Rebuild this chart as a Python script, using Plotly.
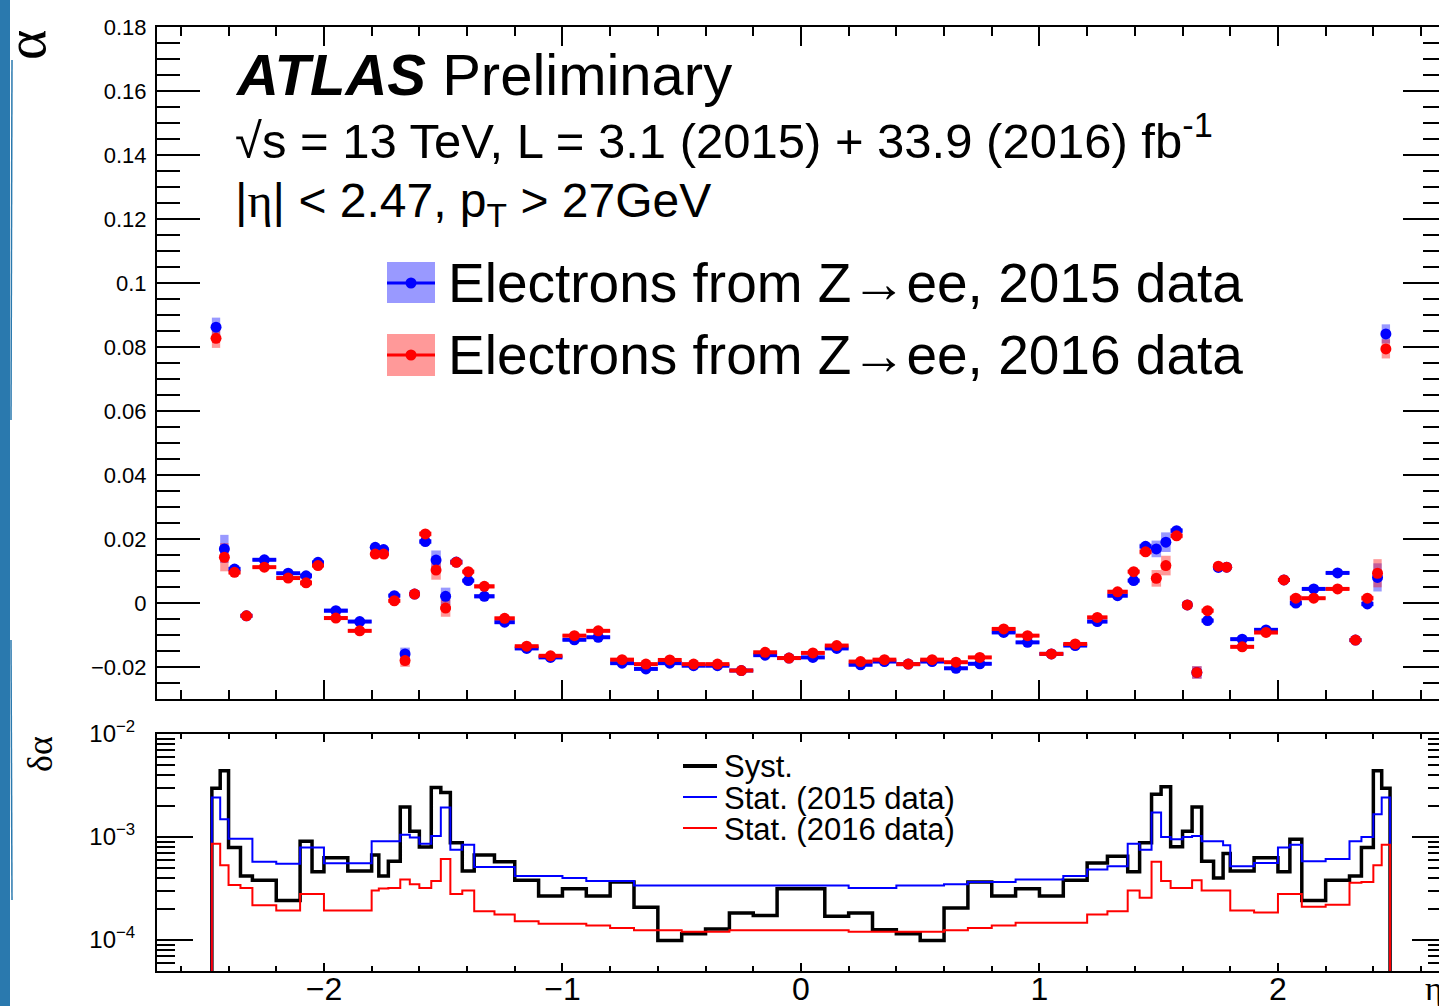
import math
import plotly.graph_objects as go

# ---------------- data ----------------
POS_EDGES = [0.0, 0.1, 0.2, 0.3, 0.4, 0.5, 0.6, 0.7, 0.8, 0.9, 1.0, 1.1, 1.2, 1.285, 1.37,
             1.42, 1.47, 1.51, 1.55, 1.6, 1.64, 1.68, 1.73, 1.77, 1.8, 1.9, 2.0, 2.05, 2.1,
             2.2, 2.3, 2.35, 2.4, 2.435, 2.47]
ETA_EDGES = [-e for e in reversed(POS_EDGES[1:])] + POS_EDGES

ALPHA_2015 = [0.0862, 0.0169, 0.0106, -0.0040, 0.0135, 0.0093, 0.0085, 0.0127, -0.0024, -0.0058,
              0.0174, 0.0167, 0.0023, -0.0159, 0.0028, 0.0192, 0.0134, 0.0021, 0.0128, 0.0070,
              0.0021, -0.0060, -0.0142, -0.0170, -0.0115, -0.0107, -0.0188, -0.0206, -0.0188, -0.0196,
              -0.0196, -0.0211, -0.0163, -0.0172, -0.0170, -0.0142, -0.0193, -0.0183, -0.0191, -0.0183,
              -0.0204, -0.0190, -0.0092, -0.0123, -0.0159, -0.0133, -0.0058, 0.0023, 0.0070, 0.0177,
              0.0169, 0.0190, 0.0226, -0.0006, -0.0217, -0.0055, 0.0111, 0.0112, -0.0113, -0.0084,
              0.0072, 0.0000, 0.0044, 0.0094, -0.0116, -0.0003, 0.0080, 0.0841]

ALPHA_2016 = [0.0827, 0.0143, 0.0096, -0.0040, 0.0112, 0.0078, 0.0063, 0.0117, -0.0047, -0.0087,
              0.0153, 0.0153, 0.0007, -0.0180, 0.0028, 0.0216, 0.0103, -0.0016, 0.0127, 0.0098,
              0.0052, -0.0048, -0.0135, -0.0165, -0.0102, -0.0087, -0.0177, -0.0191, -0.0178, -0.0191,
              -0.0191, -0.0211, -0.0154, -0.0172, -0.0156, -0.0133, -0.0183, -0.0177, -0.0191, -0.0177,
              -0.0185, -0.0170, -0.0081, -0.0102, -0.0159, -0.0128, -0.0045, 0.0035, 0.0098, 0.0160,
              0.0077, 0.0117, 0.0210, -0.0006, -0.0217, -0.0024, 0.0115, 0.0112, -0.0137, -0.0092,
              0.0072, 0.0015, 0.0015, 0.0044, -0.0116, 0.0015, 0.0093, 0.0794]

SYST = [2.98e-3, 4.4e-3, 7.9e-4, 4.17e-4, 3.8e-4, 2.42e-4, 9.1e-4, 4.6e-4, 6.3e-4, 4.67e-4,
        6.7e-4, 4.17e-4, 5.8e-4, 1.96e-3, 1.14e-3, 8.0e-4, 3.02e-3, 2.7e-3, 8.8e-4, 4.67e-4,
        6.7e-4, 5.75e-4, 3.8e-4, 2.67e-4, 3.14e-4, 2.67e-4, 3.65e-4, 2.08e-4, 9.9e-5, 1.15e-4,
        1.28e-4, 1.83e-4, 1.73e-4, 3.14e-4, 3.14e-4, 1.7e-4, 1.83e-4, 1.26e-4, 1.15e-4, 9.9e-5,
        2.05e-4, 3.65e-4, 2.67e-4, 3.14e-4, 2.67e-4, 3.8e-4, 5.6e-4, 6.5e-4, 4.6e-4, 8.8e-4,
        2.6e-3, 3.07e-3, 8.05e-4, 1.14e-3, 1.96e-3, 5.8e-4, 4.0e-4, 6.9e-4, 4.67e-4, 6.3e-4,
        4.6e-4, 9.5e-4, 2.42e-4, 3.8e-4, 4.17e-4, 7.9e-4, 4.4e-3, 2.98e-3]

STAT_2015 = [2.42e-3, 1.49e-3, 9.6e-4, 9.6e-4, 5.75e-4, 5.5e-4, 7.9e-4, 7.9e-4, 5.55e-4, 5.55e-4,
             9.1e-4, 9.1e-4, 9.1e-4, 1.05e-3, 9.9e-4, 8.6e-4, 1.02e-3, 1.93e-3, 7.5e-4, 8.4e-4,
             5.1e-4, 5.1e-4, 4.17e-4, 4.17e-4, 4.0e-4, 3.73e-4, 3.73e-4, 3.39e-4, 3.39e-4, 3.39e-4,
             3.39e-4, 3.39e-4, 3.39e-4, 3.39e-4, 3.39e-4, 3.39e-4, 3.2e-4, 3.2e-4, 3.39e-4, 3.39e-4,
             3.47e-4, 3.65e-4, 3.65e-4, 3.87e-4, 3.87e-4, 4.17e-4, 4.84e-4, 5.2e-4, 8.6e-4, 7.5e-4,
             1.73e-3, 1.0e-3, 9.5e-4, 1.0e-3, 1.02e-3, 9.1e-4, 9.1e-4, 8.3e-4, 5.2e-4, 5.6e-4,
             7.9e-4, 8.4e-4, 5.8e-4, 6.1e-4, 9.1e-4, 1.0e-3, 1.66e-3, 2.42e-3]

STAT_2016 = [8.6e-4, 5.33e-4, 3.41e-4, 3.2e-4, 2.18e-4, 1.93e-4, 2.8e-4, 2.8e-4, 1.93e-4, 1.93e-4,
             3.03e-4, 3.16e-4, 3.2e-4, 3.87e-4, 3.47e-4, 3.2e-4, 3.73e-4, 6.1e-4, 2.8e-4, 3.03e-4,
             1.9e-4, 1.77e-4, 1.52e-4, 1.44e-4, 1.44e-4, 1.38e-4, 1.31e-4, 1.24e-4, 1.24e-4, 1.2e-4,
             1.2e-4, 1.24e-4, 1.24e-4, 1.24e-4, 1.24e-4, 1.24e-4, 1.2e-4, 1.2e-4, 1.2e-4, 1.2e-4,
             1.24e-4, 1.31e-4, 1.38e-4, 1.47e-4, 1.47e-4, 1.47e-4, 1.77e-4, 1.9e-4, 3.03e-4, 2.57e-4,
             5.75e-4, 3.73e-4, 3.2e-4, 3.2e-4, 3.8e-4, 3.03e-4, 3.03e-4, 3.03e-4, 1.93e-4, 1.85e-4,
             2.8e-4, 2.8e-4, 2.1e-4, 2.2e-4, 3.59e-4, 3.65e-4, 5.33e-4, 8.4e-4]

Y_TICKS = [-0.02, 0.0, 0.02, 0.04, 0.06, 0.08, 0.10, 0.12, 0.14, 0.16, 0.18]
Y_TICK_TEXT = ["\u22120.02", "0", "0.02", "0.04", "0.06", "0.08", "0.1", "0.12", "0.14", "0.16", "0.18"]
X_TICKS = [-2, -1, 0, 1, 2]
X_TICK_TEXT = ["\u22122", "\u22121", "0", "1", "2"]
LOG_TICKS = [1e-4, 1e-3, 1e-2]
LOG_TICK_TEXT = ["10<sup>\u22124</sup>", "10<sup>\u22123</sup>", "10<sup>\u22122</sup>"]

# ---------------- derived ----------------
CENTERS = [(a + b) / 2 for a, b in zip(ETA_EDGES[:-1], ETA_EDGES[1:])]
WIDTHS = [b - a for a, b in zip(ETA_EDGES[:-1], ETA_EDGES[1:])]
HALF = [w / 2 for w in WIDTHS]
MINOR_LOG = [k * 10.0 ** p for p in (-5, -4, -3) for k in range(2, 10)]

SANS = "Liberation Sans, Arial, Helvetica, sans-serif"
SERIF = "Liberation Serif, Times New Roman, serif"

W, H = 1439, 1006
L, R, T, B = 157, 1439, 27, 971


def xp(px):
    return (px - L) / (R - L)


def yp(py):
    return (B - py) / (B - T)


def step_xy(vals, floor=1e-7):
    xs = [ETA_EDGES[0]] + ETA_EDGES[:-1] + [ETA_EDGES[-1], ETA_EDGES[-1]]
    ys = [floor] + list(vals) + [vals[-1], floor]
    return xs, ys


fig = go.Figure()

# systematic boxes
for vals, col in ((ALPHA_2015, "rgba(0,0,255,0.4)"), (ALPHA_2016, "rgba(255,0,0,0.4)")):
    fig.add_trace(go.Bar(
        x=CENTERS, y=[2 * s for s in SYST], base=[v - s for v, s in zip(vals, SYST)],
        width=WIDTHS, marker=dict(color=col, line=dict(width=0)),
        xaxis="x", yaxis="y", showlegend=False, hoverinfo="skip"))

for vals, col in ((ALPHA_2015, "#0000ff"), (ALPHA_2016, "#ff0000")):
    fig.add_trace(go.Scatter(
        x=CENTERS, y=vals, mode="markers",
        marker=dict(color=col, size=11, symbol="circle", line=dict(width=0)),
        error_x=dict(type="data", array=HALF, symmetric=True, thickness=4, width=0, color=col),
        xaxis="x", yaxis="y", showlegend=False))

# lower panel histograms
for vals, col, lw in ((SYST, "black", 3.5), (STAT_2015, "#0000ff", 2), (STAT_2016, "#ff0000", 2)):
    xs, ys = step_xy(vals)
    fig.add_trace(go.Scatter(x=xs, y=ys, mode="lines", line=dict(color=col, width=lw, shape="hv"),
                             xaxis="x2", yaxis="y2", showlegend=False, hoverinfo="skip"))

# dummy traces for right-side tick axes
fig.add_trace(go.Scatter(x=[None], y=[None], xaxis="x", yaxis="y3", showlegend=False, hoverinfo="skip"))
fig.add_trace(go.Scatter(x=[None], y=[None], xaxis="x2", yaxis="y4", showlegend=False, hoverinfo="skip"))

XR = [-2.7, -2.7 + (R - L) / 238.5]
Y_DOM_UP = [yp(699), 1.0]
Y_DOM_LO = [0.0, yp(734)]
LOG_R = [math.log10(5e-5), -2]

tick_common = dict(tickcolor="black", tickwidth=2, showgrid=False, zeroline=False)

fig.update_layout(
    width=W, height=H, autosize=False,
    margin=dict(l=L, r=W - R, t=T, b=H - B, pad=0),
    paper_bgcolor="white", plot_bgcolor="white",
    barmode="overlay", showlegend=False,
    font=dict(family=SANS, color="black"),
    xaxis=dict(domain=[0, 1], anchor="y", range=XR, showline=True, linecolor="black", linewidth=2,
               mirror="ticks", ticks="inside", ticklen=19, tickmode="array", tickvals=X_TICKS,
               showticklabels=False, automargin=False,
               minor=dict(tickmode="linear", tick0=0, dtick=0.2, ticks="inside", ticklen=9,
                          tickwidth=2, tickcolor="black"),
               **tick_common),
    yaxis=dict(domain=Y_DOM_UP, anchor="x", range=[-0.03, 0.18], showline=True, linecolor="black",
               linewidth=2, mirror=False, ticks="inside", ticklen=43, tickmode="array",
               tickvals=Y_TICKS, ticktext=Y_TICK_TEXT, tickfont=dict(size=22, family=SANS, color="black"),
               ticklabelstandoff=4, automargin=False,
               minor=dict(tickmode="linear", tick0=0, dtick=0.005, ticks="inside", ticklen=23,
                          tickwidth=2, tickcolor="black"),
               **tick_common),
    yaxis3=dict(overlaying="y", side="right", anchor="x", range=[-0.03, 0.18], showline=False,
                ticks="inside", ticklen=36, tickmode="array", tickvals=Y_TICKS, showticklabels=False,
                automargin=False,
                minor=dict(tickmode="linear", tick0=0, dtick=0.005, ticks="inside", ticklen=16,
                           tickwidth=2, tickcolor="black"),
                **tick_common),
    xaxis2=dict(domain=[0, 1], anchor="y2", range=XR, showline=True, linecolor="black", linewidth=2,
                mirror="ticks", ticks="inside", ticklen=8, tickmode="array", tickvals=X_TICKS,
                ticktext=X_TICK_TEXT, tickfont=dict(size=32, family=SANS, color="black"),
                ticklabelstandoff=-11, automargin=False,
                minor=dict(tickmode="linear", tick0=0, dtick=0.2, ticks="inside", ticklen=5,
                           tickwidth=2, tickcolor="black"),
                **tick_common),
    yaxis2=dict(domain=Y_DOM_LO, anchor="x2", type="log", range=LOG_R, showline=True,
                linecolor="black", linewidth=2, mirror=False, ticks="inside", ticklen=36,
                tickmode="array", tickvals=LOG_TICKS, ticktext=LOG_TICK_TEXT,
                tickfont=dict(size=24, family=SANS, color="black"), ticklabelstandoff=15,
                automargin=False,
                minor=dict(tickmode="array", tickvals=MINOR_LOG, ticks="inside", ticklen=18,
                           tickwidth=2, tickcolor="black"),
                **tick_common),
    yaxis4=dict(overlaying="y2", side="right", anchor="x2", type="log", range=LOG_R, showline=False,
                ticks="inside", ticklen=27, tickmode="array", tickvals=LOG_TICKS, showticklabels=False,
                automargin=False,
                minor=dict(tickmode="array", tickvals=MINOR_LOG, ticks="inside", ticklen=11,
                           tickwidth=2, tickcolor="black"),
                **tick_common),
)

ann = []


def text(px, py, s, size, family=SANS, xanchor="left", angle=0):
    ann.append(dict(x=xp(px), y=yp(py), xref="paper", yref="paper", text=s, showarrow=False,
                    xanchor=xanchor, yanchor="middle", textangle=angle,
                    font=dict(size=size, family=family, color="black")))


text(233, 74, "<b><i>ATLAS</i></b> Preliminary", 58)
text(233, 137, "\u221as = 13 TeV, L = 3.1 (2015) + 33.9 (2016) fb<sup>-1</sup>", 49)
text(233, 204, "|<span style=\"font-family:Liberation Serif\">\u03b7</span>| &lt; 2.47, p<sub>T</sub> &gt; 27GeV", 48)
text(446, 283, "Electrons from Z\u2192ee, 2015 data", 55)
text(446, 355, "Electrons from Z\u2192ee, 2016 data", 55)
text(722, 766, "Syst.", 31)
text(722, 798, "Stat. (2015 data)", 31)
text(722, 829, "Stat. (2016 data)", 31)
text(26, 45, "\u03b1", 58, family=SERIF, xanchor="center", angle=-90)
text(40, 754, "\u03b4\u03b1", 36, family=SERIF, xanchor="center", angle=-90)
text(1423, 988, "\u03b7", 34, family=SERIF)

shapes = []


def rect(x0, y0, x1, y1, fill):
    shapes.append(dict(type="rect", xref="paper", yref="paper", x0=xp(x0), x1=xp(x1), y0=yp(y1), y1=yp(y0),
                       fillcolor=fill, line=dict(width=0), layer="above"))


def hline(x0, x1, y, col, w):
    shapes.append(dict(type="line", xref="paper", yref="paper", x0=xp(x0), x1=xp(x1), y0=yp(y), y1=yp(y),
                       line=dict(color=col, width=w), layer="above"))


def dot(cx, cy, r, col):
    shapes.append(dict(type="circle", xref="paper", yref="paper", x0=xp(cx - r), x1=xp(cx + r),
                       y0=yp(cy + r), y1=yp(cy - r), fillcolor=col, line=dict(width=0), layer="above"))


rect(387, 262, 435, 303, "rgba(0,0,255,0.4)")
hline(387, 435, 283, "#0000ff", 3)
dot(411, 283, 5.5, "#0000ff")
rect(387, 334, 435, 376, "rgba(255,0,0,0.4)")
hline(387, 435, 355, "#ff0000", 3)
dot(411, 355, 5.5, "#ff0000")

hline(683, 717, 766, "black", 4)
hline(683, 717, 797, "#0000ff", 2)
hline(683, 717, 828, "#ff0000", 2)

# decorative blue border on the left edge
rect(0, 0, 10, 1006, "#2a79ae")
shapes.append(dict(type="line", xref="paper", yref="paper", x0=xp(12), x1=xp(11), y0=yp(60), y1=yp(420),
                   line=dict(color="#2a79ae", width=1.5), layer="above"))
shapes.append(dict(type="line", xref="paper", yref="paper", x0=xp(11), x1=xp(12), y0=yp(640), y1=yp(900),
                   line=dict(color="#2a79ae", width=1.5), layer="above"))

fig.update_layout(annotations=ann, shapes=shapes)

fig.write_html("out.html")
